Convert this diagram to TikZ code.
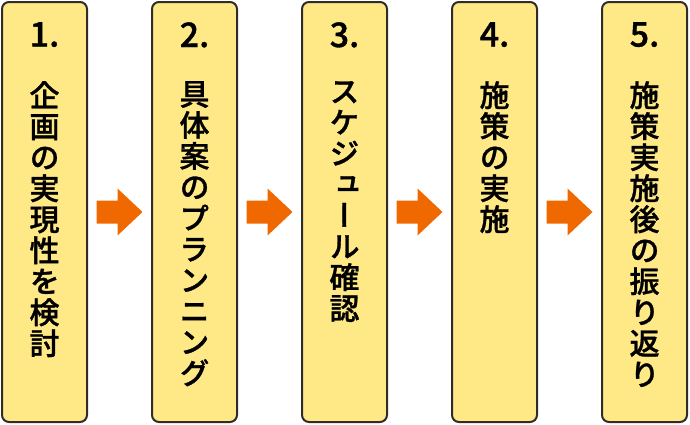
\documentclass[tikz,border=0pt]{standalone}
\usepackage{fontspec}
\newfontfamily\jptext[RawFeature=+vert,FakeBold=1]{Noto Sans CJK JP Medium}
\usetikzlibrary{positioning, calc}
\definecolor{boxyellow}{RGB}{255,233,135}
\definecolor{boxline}{RGB}{50,44,40}
\definecolor{myorange}{RGB}{240,104,0}

\begin{document}
\begin{tikzpicture}[x=1pt,y=1pt,
    stepbox/.style={draw=boxline,line width=2pt,fill=boxyellow,rounded corners=7pt,minimum width=85pt,minimum height=420pt,inner sep=0pt},
    numtext/.style={inner sep=0pt,font=\jptext\fontsize{34}{40}\selectfont},
    vtext/.style={inner sep=0pt,align=center,font=\jptext\fontsize{30}{31}\selectfont},
    arrowfill/.style={fill=myorange}]
    \useasboundingbox (0,0) rectangle (690,-424);
    % Boxes with number and vertical text
    \foreach \i/\txt in {1/{企\\画\\の\\実\\現\\性\\を\\検\\討},
                         2/{具\\体\\案\\の\\プ\\ラ\\ン\\ニ\\ン\\グ},
                         3/{ス\\ケ\\ジ\\ュ\\ー\\ル\\確\\認},
                         4/{施\\策\\の\\実\\施},
                         5/{施\\策\\実\\施\\後\\の\\振\\り\\返\\り}} {
        \node[stepbox] (b\i) at (44.5+150*\i-150,-212) {};
        \node[numtext,below=21pt of b\i.north] (n\i) {\i.};
        \node[vtext,below=80pt of b\i.north] (t\i) {\txt};
    }
    % Arrows between boxes
    \foreach \i [evaluate=\i as \j using int(\i+1)] in {1,...,4} {
        \coordinate (m\i) at ($(b\i.east)!0.5!(b\j.west)$);
        \fill[arrowfill] ($(m\i)+(-23,-11.5)$) -- ($(m\i)+(-2,-11.5)$) -- ($(m\i)+(-2,-23.5)$)
            -- ($(m\i)+(23,0)$) -- ($(m\i)+(-2,23.5)$) -- ($(m\i)+(-2,11.5)$) -- ($(m\i)+(-23,11.5)$) -- cycle;
    }
\end{tikzpicture}
\end{document}
